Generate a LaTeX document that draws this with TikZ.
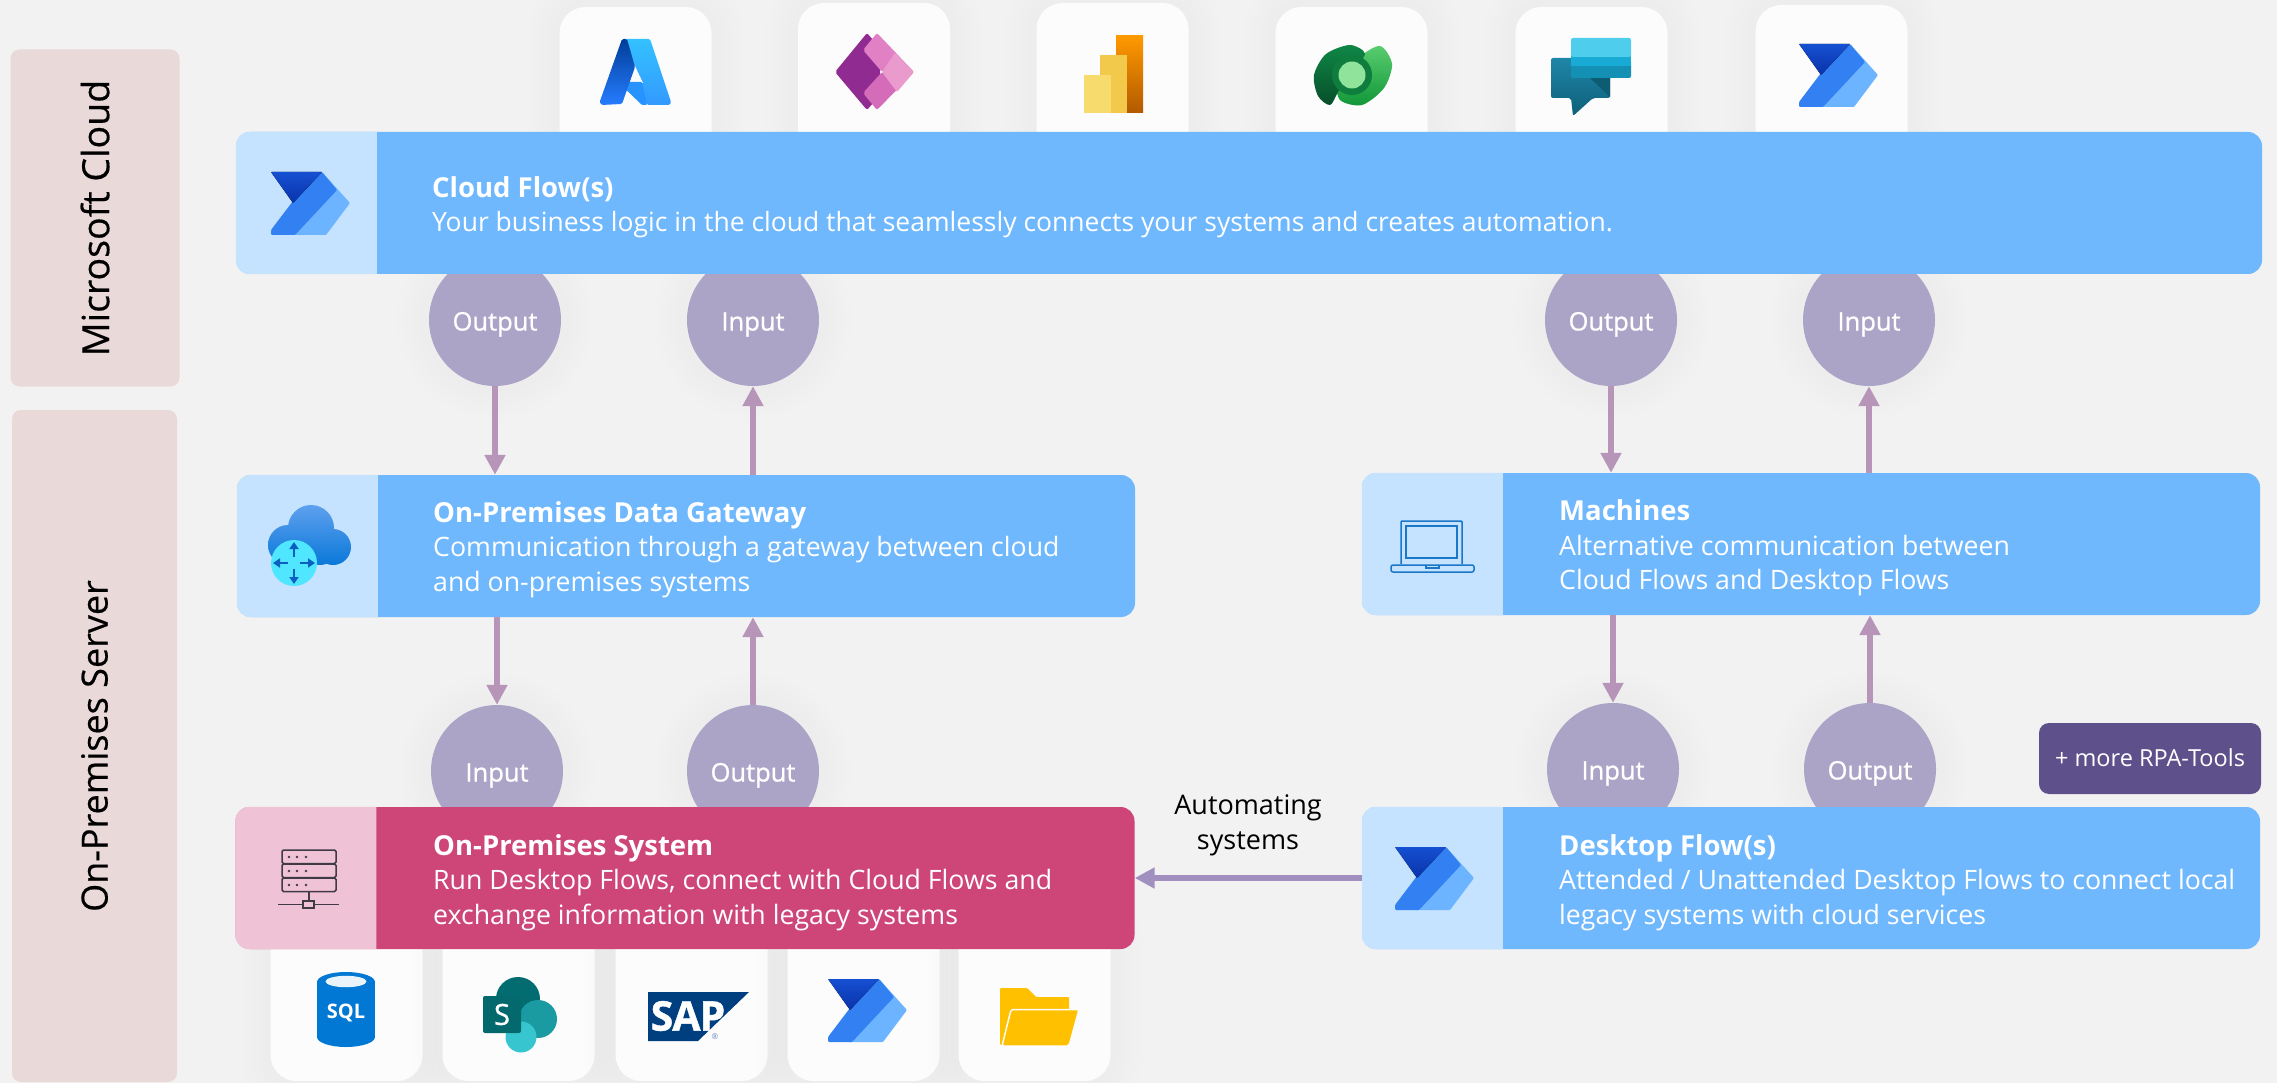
\documentclass[tikz,border=0pt]{standalone}
\usepackage{fontspec}
\setmainfont{Open Sans}
\usetikzlibrary{arrows.meta}

\definecolor{pagebg}{HTML}{F2F2F2}
\definecolor{bandbg}{HTML}{E9D9D9}
\definecolor{cardbg}{HTML}{FCFCFC}
\definecolor{skyblue}{HTML}{6FB8FE}
\definecolor{skytab}{HTML}{C5E2FE}
\definecolor{rosered}{HTML}{CE4577}
\definecolor{rosetab}{HTML}{EFC2D5}
\definecolor{bubble}{HTML}{ABA4C6}
\definecolor{toolbox}{HTML}{5E518B}
\definecolor{linkline}{HTML}{B795B8}
\definecolor{autoline}{HTML}{A08FBF}
\definecolor{iconline}{HTML}{1976C8}
\definecolor{srvline}{HTML}{3F3A45}
\definecolor{flowlight}{HTML}{6CB4FF}
\definecolor{flowmid}{HTML}{3280F2}
\definecolor{flowdark}{HTML}{1550D2}
\definecolor{flowdeep}{HTML}{0A32AA}

\tikzset{
  softglow/.style={
    preaction={draw=black,fill=none,opacity=.005,line width=64pt},
    preaction={draw=black,fill=none,opacity=.005,line width=52pt},
    preaction={draw=black,fill=none,opacity=.005,line width=40pt},
    preaction={draw=black,fill=none,opacity=.005,line width=28pt},
    preaction={draw=black,fill=none,opacity=.005,line width=16pt}},
  band/.style={fill=bandbg,rounded corners=9pt,rotate=90,inner sep=0pt,
    font=\addfontfeature{FakeBold=.4}\fontsize{36}{40}\selectfont},
  card/.style={softglow,fill=cardbg,rounded corners=26pt,inner sep=0pt,
    minimum width=152pt,minimum height=#1},
  panel/.style={fill=skyblue,rounded corners=14pt,inner sep=0pt,minimum height=142pt},
  paneltext/.style={anchor=west,inner sep=0pt,align=left,text=white,
    font=\fontsize{26.7}{34.5}\selectfont},
  ball/.style={softglow,circle,fill=bubble,inner sep=0pt,minimum size=132pt,text=white,
    text height=26pt,text depth=5pt,
    font=\addfontfeature{FakeBold=1}\fontsize{25.5}{30}\selectfont},
  link/.style={draw=linkline,line width=6pt,-{Triangle[width=20pt,length=20pt]}},
  flowicon/.pic={
    \fill[rounded corners=1pt,flowlight] (51,0)--(79,31)--(55,63)--(20,63)--cycle;
    \fill[rounded corners=1pt,flowmid] (51,0)--(66,18)--(24,63)--(0,63)--(0,58)--(22,29)--cycle;
    \fill[rounded corners=.5pt,top color=flowdark,bottom color=flowdeep] (0,0)--(51,0)--(22,31)--cycle;
  }
}

\newcommand{\paneltab}[2]{
  \fill[#2] ([xshift=141pt]#1.north west) [rounded corners=14pt] -- (#1.north west)
    -- (#1.south west) [sharp corners] -- ([xshift=141pt]#1.south west) -- cycle;
}
\newcommand{\paneltitle}[1]{{\bfseries\fontsize{27.5}{34.5}\selectfont #1}}

\begin{document}
\begin{tikzpicture}[x=1pt,y=-1pt]
\useasboundingbox[fill=pagebg] (0,0) rectangle (2277,1083);

\node[band,minimum width=337pt,minimum height=169pt,
  font=\addfontfeature{FakeBold=.4}\fontsize{37.5}{40}\selectfont] (cloudband) at (95,218) {Microsoft Cloud};
\node[band,minimum width=672pt,minimum height=165pt] (serverband) at (94.5,746) {On-Premises Server};

% icon cards
\node[card=160pt] (cardazure) at (635.5,87) {};
\node[card=164pt] (cardapps) at (874,85) {};
\node[card=164pt] (cardbi) at (1112.5,85) {};
\node[card=160pt] (cardverse) at (1351.5,87) {};
\node[card=160pt] (cardagents) at (1591.5,87) {};
\node[card=162pt] (cardflow) at (1831.5,86) {};
\node[card=162pt] (cardsql) at (346.5,1000) {};
\node[card=162pt] (cardshare) at (518.5,1000) {};
\node[card=162pt] (cardsap) at (691.5,1000) {};
\node[card=162pt] (cardrpa) at (863.5,1000) {};
\node[card=162pt] (cardfolder) at (1034.5,1000) {};

% balls
\node[ball] (outa) at (495,320) {Output};
\node[ball] (ina) at (753,320) {Input};
\node[ball] (outb) at (1611,320) {Output};
\node[ball] (inb) at (1869,320) {Input};
\node[ball] (inc) at (497,771) {Input};
\node[ball] (outc) at (753,771) {Output};
\node[ball] (ind) at (1613,769) {Input};
\node[ball] (outd) at (1870,769) {Output};

% panels
\node[panel,minimum width=2026pt] (cloudflow) at (1249,203) {};
\node[panel,minimum width=898pt] (gateway) at (686,546) {};
\node[panel,minimum width=898pt] (machines) at (1811,544) {};
\node[panel,minimum width=899pt,fill=rosered] (onprem) at (685,878) {};
\node[panel,minimum width=898pt] (desktop) at (1811,878) {};
\paneltab{cloudflow}{skytab}
\paneltab{gateway}{skytab}
\paneltab{machines}{skytab}
\paneltab{onprem}{rosetab}
\paneltab{desktop}{skytab}

\node[paneltext,font=\fontsize{26.5}{34.5}\selectfont] (cloudtext) at (432,207) {\paneltitle{Cloud Flow(s)}\\Your business logic in the cloud that seamlessly connects your systems and creates automation.};
\node[paneltext] (gatewaytext) at (433,549.5) {\paneltitle{On-Premises Data Gateway}\\Communication through a gateway between cloud\\and on-premises systems};
\node[paneltext] (machinestext) at (1559,548) {\paneltitle{Machines}\\Alternative communication between\\Cloud Flows and Desktop Flows};
\node[paneltext] (onpremtext) at (433,882.5) {\paneltitle{On-Premises System}\\Run Desktop Flows, connect with Cloud Flows and\\exchange information with legacy systems};
\node[paneltext] (desktoptext) at (1559,882.5) {\paneltitle{Desktop Flow(s)}\\Attended / Unattended Desktop Flows to connect local\\legacy systems with cloud services};

\node[fill=toolbox,rounded corners=10pt,text=white,inner sep=0pt,minimum width=222pt,minimum height=71pt,
  text height=19pt,text depth=3pt,font=\fontsize{23.5}{28}\selectfont] (moretools) at (2150,758.5) {+ more RPA-Tools};
\node[align=center,inner sep=0pt,font=\fontsize{27}{35}\selectfont] (autolabel) at (1248,825) {Automating\\systems};

% connectors
\draw[link] (outa.south) -- (outa.south |- gateway.north);
\draw[link] (gateway.north -| ina) -- (ina.south);
\draw[link] (outb.south) -- (outb.south |- machines.north);
\draw[link] (machines.north -| inb) -- (inb.south);
\draw[link] (gateway.south -| inc) -- (inc.north);
\draw[link] (outc.north) -- (outc.north |- gateway.south);
\draw[link] (machines.south -| ind) -- (ind.north);
\draw[link] (outd.north) -- (outd.north |- machines.south);
\draw[link,draw=autoline] (desktop.west) -- (onprem.east);

% flow icons
\pic at (271,172) {flowicon};
\pic at (1799,44) {flowicon};
\pic at (1395,847) {flowicon};
\pic at (828,979) {flowicon};

% azure
\shade[top color=cyan!70!blue!80,bottom color=blue!50!cyan!80,rounded corners=1.5pt]
  (625,39)--(650,39)--(671,102)--(670,105)--(647,105)--(635,67)--cycle;
\fill[cardbg] (629,83)--(635,66)--(643,83)--cycle;
\fill[blue!50!cyan!85,rounded corners=1pt] (618,82)--(642,82)--(647,105)--(642,105)--cycle;
\shade[top color=blue!60!cyan!60!black,bottom color=blue!60!cyan!85,rounded corners=1.5pt]
  (622,39)--(627,39)--(635,67)--(622,104)--(601,105)--(600,101)--cycle;

% power apps
\fill[color={rgb,255:red,143;green,43;blue,145},rounded corners=2pt] (867,33)--(835,72)--(867,110)--(880,95)--(880,48)--cycle;
\fill[color={rgb,255:red,226;green,128;blue,197},rounded corners=2pt] (877,33)--(914,72)--(882,72)--(863,50)--cycle;
\fill[color={rgb,255:red,212;green,108;blue,185},rounded corners=2pt] (914,72)--(877,110)--(863,93)--(882,72)--cycle;
\fill[color={rgb,255:red,234;green,155;blue,205},rounded corners=1pt] (895,53)--(914,72)--(897,92)--(882,72)--cycle;

% power bi
\shade[top color=orange!80!yellow,bottom color=orange!70!black] (1116,36) rectangle (1143,113);
\fill[color={rgb,255:red,242;green,201;blue,74}] (1100,55) rectangle (1127,113);
\fill[color={rgb,255:red,247;green,219;blue,109}] (1084,75) rectangle (1111,113);

% dataverse
\shade[top color={rgb,255:red,90;green,205;blue,112},bottom color={rgb,255:red,16;green,150;blue,55}]
  plot[smooth cycle] coordinates {(1380,46) (1392,64) (1384,88) (1362,105) (1340,100) (1338,80) (1358,58)};
\shade[top color={rgb,255:red,15;green,135;blue,70},bottom color={rgb,255:red,7;green,78;blue,42}]
  plot[smooth cycle] coordinates {(1350,45) (1365,54) (1350,72) (1338,92) (1330,105) (1318,96) (1314,75) (1326,54)};
\fill[color={rgb,255:red,14;green,125;blue,62}] (1352,75) circle (20);
\fill[color={rgb,255:red,143;green,227;blue,154}] (1352,75) circle (13.5);

% agents
\shade[top color={rgb,255:red,31;green,134;blue,168},bottom color={rgb,255:red,13;green,95;blue,120},rounded corners=2pt]
  (1551,58) -- (1610,58) -- (1610,98) -- (1593,98) -- (1573,116) -- (1571,98) -- (1551,98) -- cycle;
\fill[color={rgb,255:red,13;green,92;blue,115}] (1590,78)--(1610,78)--(1610,97)--cycle;
\fill[color={rgb,255:red,20;green,144;blue,180},rounded corners=2pt] (1571,60) rectangle (1631,78);
\fill[color={rgb,255:red,23;green,171;blue,214}] (1571,52) rectangle (1631,66);
\fill[color={rgb,255:red,79;green,205;blue,236},rounded corners=2pt] (1571,38) rectangle (1631,57);

% gateway cloud
\shade[top color={rgb,255:red,94;green,160;blue,239},bottom color={rgb,255:red,10;green,120;blue,216}]
  (311,528) circle (23) (288,545) circle (20) (333,547) circle (18) (305,547) circle (18) (320,547) circle (18);
\fill[color={rgb,255:red,80;green,230;blue,255}] (294,563) circle (23);
\foreach \dirx/\diry in {0/-1,0/1,-1/0,1/0}
  \draw[color={rgb,255:red,10;green,95;blue,192},line width=2.5pt,-{Triangle[width=9pt,length=7pt]}]
    (294+6*\dirx,563+6*\diry) -- (294+21*\dirx,563+21*\diry);

% laptop
\draw[iconline,line width=1.5pt,rounded corners=1pt] (1401,564) -- (1401,521) -- (1462,521) -- (1462,564);
\draw[iconline,line width=1.5pt] (1406,526) rectangle (1457,558);
\draw[iconline,line width=1.5pt,rounded corners=2pt] (1391,565) rectangle (1474,572);
\draw[iconline,line width=1.5pt] (1426,565) -- (1426,568) -- (1439,568) -- (1439,565);

% server
\foreach \rowy in {850,864,878}{
  \draw[srvline,line width=1.5pt,rounded corners=1.5pt] (282,\rowy) rectangle (336,\rowy+13.5);
  \foreach \dotx in {289,297,306}
    \fill[srvline] (\dotx,\rowy+7) circle (1.3);
}
\draw[srvline,line width=1.5pt] (309,892) -- (309,901) (278,904.5) -- (303,904.5) (314,904.5) -- (339,904.5);
\draw[srvline,line width=1.5pt] (303,901) rectangle (314,908);

% sql
\fill[color={rgb,255:red,0;green,120;blue,212}] (346,982) ellipse (29 and 10) (346,1037) ellipse (29 and 10);
\fill[color={rgb,255:red,0;green,120;blue,212}] (317,982) rectangle (375,1037);
\fill[color={rgb,255:red,232;green,243;blue,252}] (346,981.5) ellipse (20.5 and 5.7);
\node[text=white,inner sep=0pt,font=\bfseries\fontsize{20}{24}\selectfont] (sqltext) at (346,1013) {SQL};

% sharepoint
\fill[color={rgb,255:red,3;green,108;blue,112}] (518,999) circle (22);
\fill[color={rgb,255:red,26;green,155;blue,161}] (538,1019) circle (19);
\fill[color={rgb,255:red,55;green,198;blue,208}] (521,1037) circle (15.5);
\fill[color={rgb,255:red,4;green,105;blue,108},rounded corners=2pt] (483,996) rectangle (521,1033);
\node[text=white,inner sep=0pt,font=\addfontfeature{FakeBold=1}\fontsize{29}{30}\selectfont] (sptext) at (502,1014.5) {S};

% sap
\fill[color={rgb,255:red,0;green,63;blue,127}] (648,992)--(749,992)--(698,1041)--(648,1041)--cycle;
\node[text=white,inner sep=0pt,font=\bfseries\addfontfeature{FakeBold=1}\fontsize{41}{44}\selectfont] (saptext) at (688,1016) {S\kern-1ptA\kern-1ptP};
\node[text=cyan!30!blue!60,inner sep=0pt,font=\fontsize{8}{9}\selectfont] (sapmark) at (715,1037) {®};

% folder
\fill[color={rgb,255:red,255;green,192;blue,0},rounded corners=1pt]
  (1000,988)--(1027,988)--(1036,997)--(1069,997)--(1069,1012)--(1012,1012)--(1002,1045)--(1000,1045)--cycle;
\fill[color={rgb,255:red,255;green,192;blue,0},draw=cardbg,line width=1.5pt,rounded corners=2pt]
  (1011,1009.5)--(1079,1009.5)--(1069,1046)--(1002,1046)--cycle;
\end{tikzpicture}
\end{document}
